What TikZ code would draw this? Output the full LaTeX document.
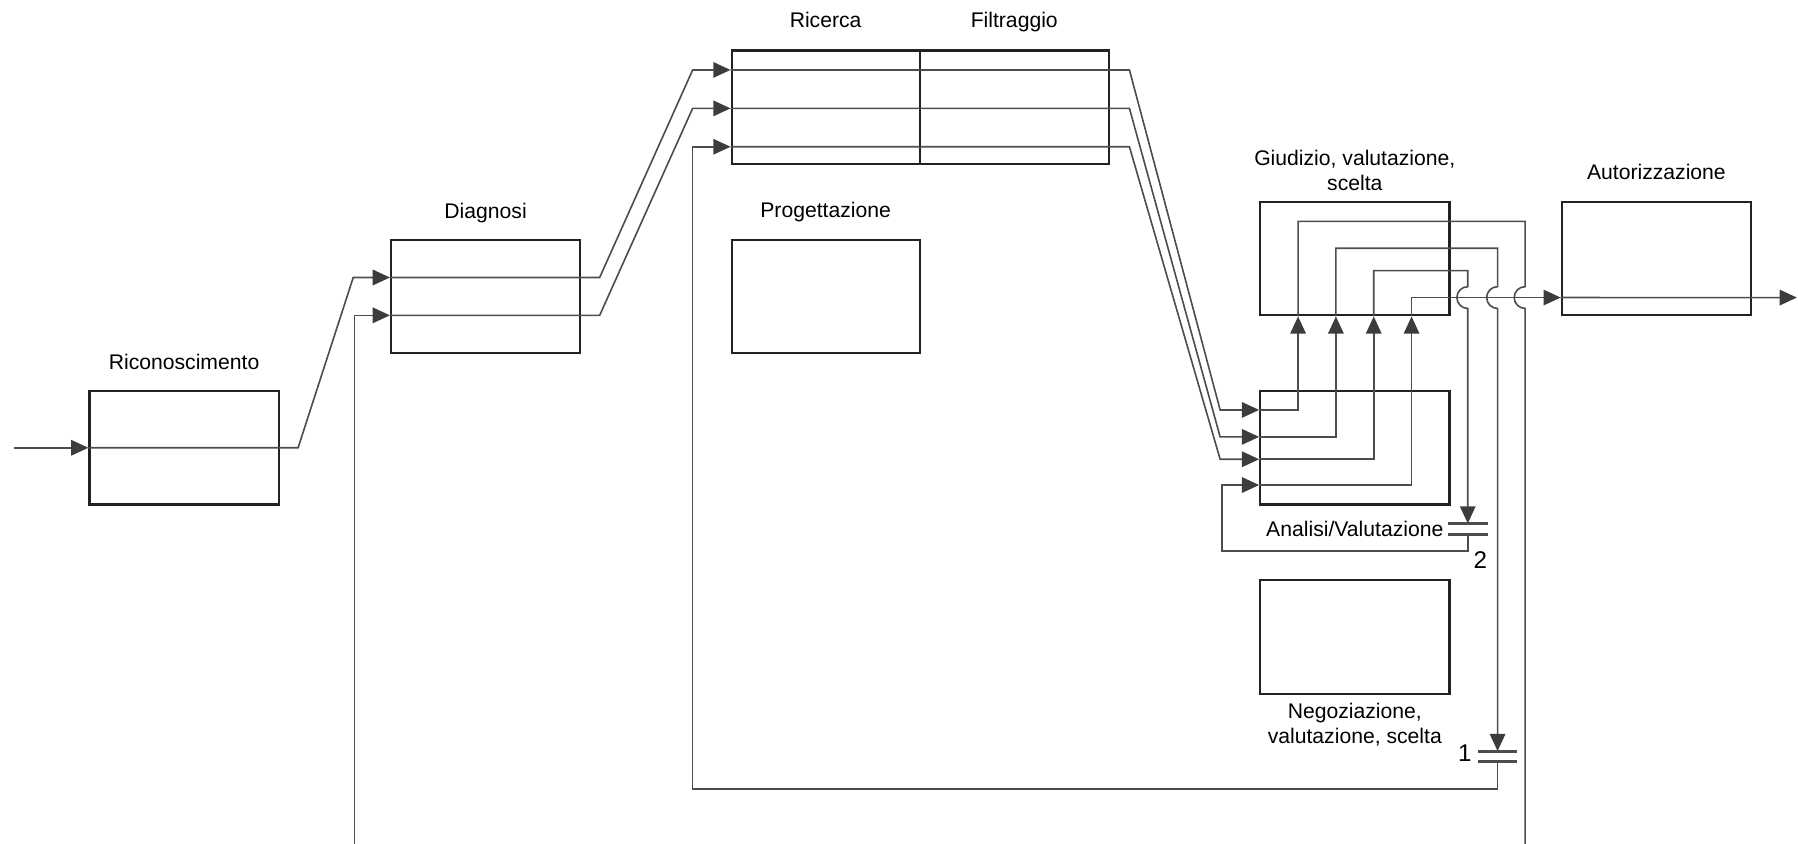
\documentclass[tikz,border=0pt]{standalone}
\usepackage{fontspec}
\setmainfont{Liberation Sans}
\usetikzlibrary{arrows.meta}
\usetikzlibrary{positioning}
\usetikzlibrary{calc}
\definecolor{linegray}{HTML}{4D4D4D}
\definecolor{tipgray}{HTML}{3C3C3C}
\definecolor{boxgray}{HTML}{222222}

\begin{document}
\begin{tikzpicture}[
    x=0.02cm, y=-0.02cm,
    font=\fontsize{10.5}{12.6}\selectfont,
    phase/.style={draw=boxgray, line width=1.1pt, minimum width=3.3cm, minimum height=1.98cm, inner sep=0pt},
    title/.style={inner sep=0pt, text depth=0.22em, align=center},
    num/.style={inner sep=0pt, font=\fontsize{12}{14}\selectfont},
    flow/.style={draw=linegray, line width=0.8pt},
    arr/.style={flow, -{Triangle[length=0.3cm, width=0.27cm, color=tipgray]}},
    plate/.style={draw=linegray, line width=1.5pt}
]
    \useasboundingbox (0,0) rectangle (1568,736);

    % Phases
    \node[phase] (ric) at (160.5,390.5) {};
    \node[phase] (dia) at (423.5,258.5) {};
    \node[phase, minimum width=3.28cm] (ricr) at (720,93.5) {};
    \node[phase] (filt) at (884.5,93.5) {};
    \node[phase, minimum width=3.28cm] (prog) at (720,258.5) {};
    \node[phase] (giud) at (1181.5,225.5) {};
    \node[phase] (anal) at (1181.5,390.5) {};
    \node[phase] (nego) at (1181.5,555.5) {};
    \node[phase] (aut) at (1444.5,225.5) {};

    % Titles
    \node[title, above=0.28cm of ric] (ric t) {Riconoscimento};
    \node[title, above=0.26cm of dia] (dia t) {Diagnosi};
    \node[title, above=0.3cm of ricr] (ricr t) {Ricerca};
    \node[title, above=0.3cm of filt] (filt t) {Filtraggio};
    \node[title, above=0.28cm of prog] (prog t) {Progettazione};
    \node[title, above=0.09cm of giud] (giud t) {Giudizio, valutazione,\\scelta};
    \node[title, above=0.28cm of aut] (aut t) {Autorizzazione};
    \node[title, below=0.27cm of anal] (anal t) {Analisi/Valutazione};
    \node[title, below=0.13cm of nego] (nego t) {Negoziazione,\\valutazione, scelta};

    % Ports
    \coordinate (start) at (12,390.5);
    \coordinate (back in) at (309,736);
    \coordinate (back out) at (1330,736);
    \coordinate (end) at (1567,259.5);
    \coordinate (d1) at ([yshift=0.33cm]dia.west);
    \coordinate (d2) at ([yshift=-0.33cm]dia.west);
    \coordinate (r1) at ([yshift=0.65cm]ricr.west);
    \coordinate (r2) at ([yshift=-0.02cm]ricr.west);
    \coordinate (r3) at ([yshift=-0.69cm]ricr.west);
    \coordinate (a1) at ([yshift=0.66cm]anal.west);
    \coordinate (a2) at ([yshift=0.19cm]anal.west);
    \coordinate (a3) at ([yshift=-0.2cm]anal.west);
    \coordinate (a4) at ([yshift=-0.65cm]anal.west);
    \coordinate (z) at ([yshift=-0.68cm]aut.west);
    \coordinate (j1) at (1280,259.5);
    \coordinate (j2) at (1306,259.5);
    \coordinate (j3) at (1330,259.5);
    \coordinate (c2a) at (1280,456.5);
    \coordinate (c2b) at (1280,466);
    \coordinate (c1a) at (1306,655);
    \coordinate (c1b) at (1306,664.5);

    % Flow
    \draw[arr] (start) -- (ric.west);
    \draw[arr] (ric.west) -- (ric.east) -- ++(16,0) -- ($(d1)+(-32,0)$) -- (d1);
    \draw[arr] (back in) |- (d2);
    \draw[arr] (d1) -- ($(d1 -| dia.east)+(16,0)$) -- ($(r1)+(-33,0)$) -- (r1);
    \draw[arr] (d2) -- ($(d2 -| dia.east)+(16,0)$) -- ($(r2)+(-33,0)$) -- (r2);
    \draw[arr] (r1) -- ($(r1 -| filt.east)+(17,0)$) -- ($(a1)+(-34,0)$) -- (a1);
    \draw[arr] (r2) -- ($(r2 -| filt.east)+(17,0)$) -- ($(a2)+(-34,0)$) -- (a2);
    \draw[arr] (r3) -- ($(r3 -| filt.east)+(17,0)$) -- ($(a3)+(-34,0)$) -- (a3);

    % Up into Giudizio
    \draw[arr] (a1) -| ([xshift=-0.99cm]giud.south);
    \draw[arr] (a2) -| ([xshift=-0.33cm]giud.south);
    \draw[arr] (a3) -| ([xshift=0.33cm]giud.south);
    \draw[arr] (a4) -| ([xshift=0.99cm]giud.south);

    % Loops back
    \draw[flow] ([xshift=-0.99cm]giud.south) -- ([xshift=-0.99cm, yshift=0.65cm]giud.center)
        -| ([yshift=0.19cm]j3) arc[start angle=90, end angle=270, radius=0.19cm] -- (back out);
    \draw[arr] ([xshift=-0.33cm]giud.south) -- ([xshift=-0.33cm, yshift=0.18cm]giud.center)
        -| ([yshift=0.19cm]j2) arc[start angle=90, end angle=270, radius=0.19cm] -- (c1a);
    \draw[arr] ([xshift=0.33cm]giud.south) -- ([xshift=0.33cm, yshift=-0.21cm]giud.center)
        -| ([yshift=0.19cm]j1) arc[start angle=90, end angle=270, radius=0.19cm] -- (c2a);
    \draw[arr] ([xshift=0.99cm]giud.south) -- ([xshift=0.99cm, yshift=-0.68cm]giud.center) -- (z);
    \draw[arr] (z) -- (end);

    % Junctions
    \draw[plate] ($(c2a)+(-17.5,0)$) -- ($(c2a)+(17.5,0)$);
    \draw[plate] ($(c2b)+(-17.5,0)$) -- ($(c2b)+(17.5,0)$);
    \draw[plate] ($(c1a)+(-17,0)$) -- ($(c1a)+(17,0)$);
    \draw[plate] ($(c1b)+(-17,0)$) -- ($(c1b)+(17,0)$);
    \node[num] (n2) at (1291,488) {2};
    \node[num] (n1) at (1277.5,657) {1};
    \draw[arr] (c2b) -- ++(0,14.5) -| ($(a4)+(-32.5,0)$) -- (a4);
    \draw[arr] (c1b) -- ++(0,23.5) -| ($(r3)+(-33,0)$) -- (r3);
\end{tikzpicture}
\end{document}
